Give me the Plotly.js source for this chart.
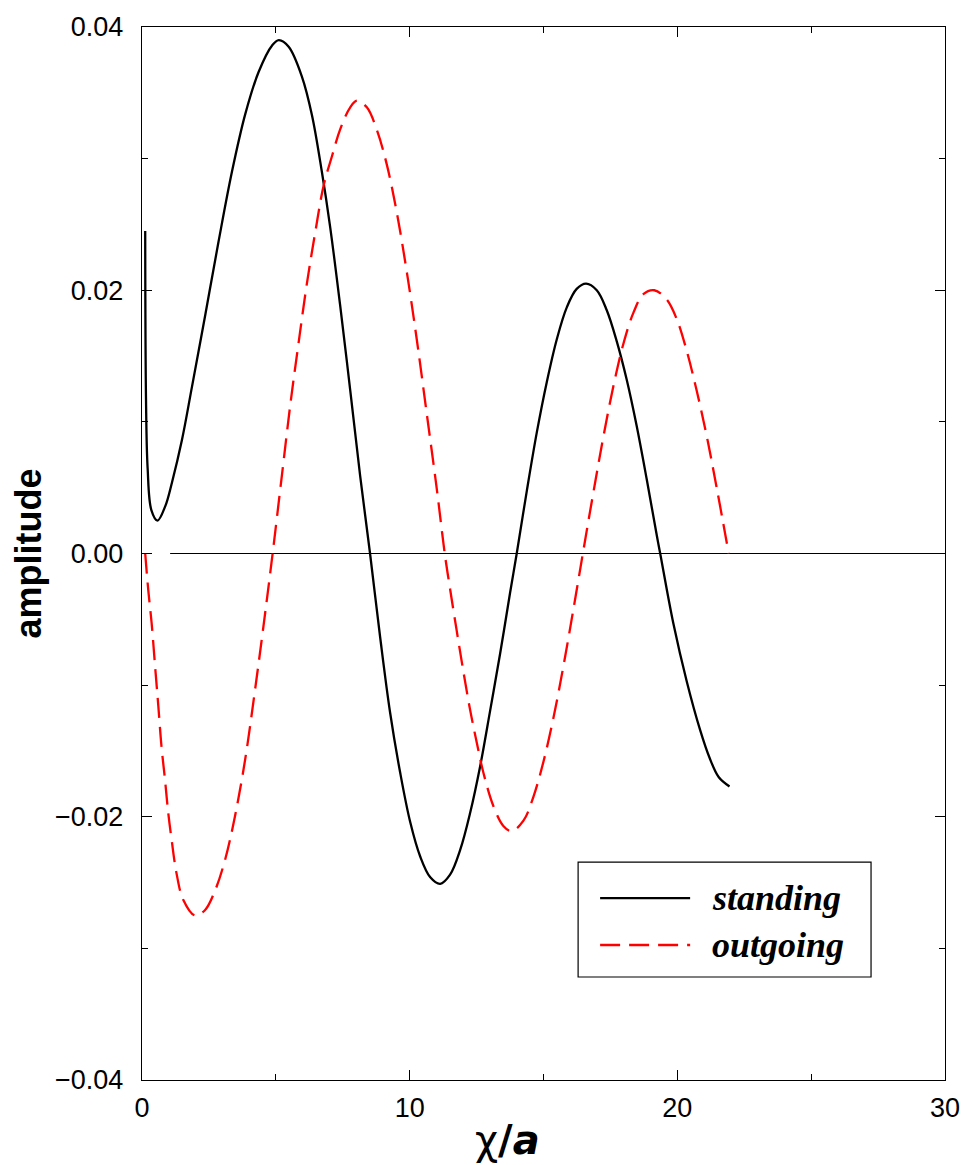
<!DOCTYPE html>
<html>
<head>
<meta charset="utf-8">
<script src="https://cdn.plot.ly/plotly-3.0.1.min.js"></script>
<style>html,body{margin:0;padding:0;background:#fff;}#chart{width:964px;height:1165px;}</style>
</head>
<body>
<div id="chart"></div>
<script>
// standing wave (solid black)
var standingX = [0.12, 0.15, 0.21, 0.35, 0.58, 0.87, 1.12, 1.49, 1.87, 2.37, 2.86, 3.36, 3.86, 4.36, 4.86, 5.11, 5.48, 5.98, 6.35, 6.72, 7.03, 7.40, 7.78, 8.15, 8.52, 8.90, 9.27, 9.65, 10.02, 10.39, 10.77, 11.14, 11.51, 11.89, 12.26, 12.63, 13.01, 13.38, 13.75, 14.00, 14.38, 14.75, 15.12, 15.50, 15.87, 16.24, 16.59, 16.99, 17.36, 17.74, 18.11, 18.48, 18.86, 19.23, 19.36, 19.85, 20.35, 20.85, 21.20, 21.55, 21.95];
var standingY = [0.0245, 0.0117, 0.0065, 0.0033, 0.0025, 0.0036, 0.0054, 0.0086, 0.0127, 0.0182, 0.0237, 0.0290, 0.0334, 0.0366, 0.0386, 0.0390, 0.0385, 0.0362, 0.0333, 0.0290, 0.0248, 0.0189, 0.0124, 0.0059, 0.0000, -0.0064, -0.0121, -0.0167, -0.0204, -0.0230, -0.0246, -0.0251, -0.0244, -0.0225, -0.0197, -0.0162, -0.0119, -0.0076, -0.0030, 0.0000, 0.0048, 0.0092, 0.0130, 0.0163, 0.0187, 0.0201, 0.0205, 0.0200, 0.0185, 0.0161, 0.0132, 0.0097, 0.0056, 0.0014, 0.0000, -0.0053, -0.0097, -0.0134, -0.0155, -0.0170, -0.0177];

// outgoing wave (dashed red)
var outgoingX = [0.12, 0.235, 0.36, 0.49, 0.61, 0.73, 0.86, 0.98, 1.11, 1.29, 1.54, 1.98, 2.35, 2.73, 3.10, 3.47, 3.85, 4.22, 4.59, 4.88, 5.23, 5.54, 5.85, 6.16, 6.48, 6.79, 7.10, 7.40, 7.78, 8.03, 8.40, 8.77, 9.14, 9.52, 9.90, 10.27, 10.64, 11.02, 11.31, 11.51, 11.76, 12.01, 12.26, 12.51, 12.76, 13.13, 13.50, 13.81, 14.25, 14.62, 15.00, 15.37, 15.74, 16.12, 16.47, 16.74, 16.99, 17.24, 17.61, 17.98, 18.36, 18.73, 19.14, 19.60, 19.98, 20.35, 20.72, 21.10, 21.47, 21.92];
var outgoingY = [0.0000, -0.0028, -0.0053, -0.0086, -0.0116, -0.0147, -0.0172, -0.0197, -0.0218, -0.0243, -0.0263, -0.0275, -0.0271, -0.0256, -0.0233, -0.0200, -0.0157, -0.0104, -0.0047, 0.0000, 0.0060, 0.0113, 0.0160, 0.0205, 0.0245, 0.0280, 0.0302, 0.0322, 0.0339, 0.0344, 0.0339, 0.0322, 0.0296, 0.0259, 0.0213, 0.0162, 0.0106, 0.0048, 0.0000, -0.0027, -0.0059, -0.0090, -0.0119, -0.0144, -0.0167, -0.0192, -0.0207, -0.0211, -0.0203, -0.0185, -0.0158, -0.0125, -0.0086, -0.0042, 0.0000, 0.0032, 0.0061, 0.0089, 0.0127, 0.0159, 0.0183, 0.0197, 0.0200, 0.0193, 0.0178, 0.0154, 0.0124, 0.0089, 0.0050, 0.0000];

// horizontal reference line at zero
var zeroLineX = [1.05, 30];
var zeroLineY = [0, 0];

var seriesNames = ['standing', 'outgoing'];
var xTickVals = [0, 10, 20, 30];
var yTickVals = [-0.04, -0.02, 0.00, 0.02, 0.04];
var xTitle = 'χ<b>/<i>a</i></b>';
var yTitle = '<b>amplitude</b>';

var COLORS = {standing: '#000000', outgoing: '#ff0000'};
var DASH = '20px,9px';

var traces = [
  {x: zeroLineX, y: zeroLineY, mode: 'lines', line: {color: '#000', width: 1.2}, showlegend: false, hoverinfo: 'skip'},
  {x: standingX, y: standingY, name: seriesNames[0], mode: 'lines', showlegend: false,
   line: {color: COLORS.standing, width: 2.3, shape: 'spline', smoothing: 1.0}},
  {x: outgoingX, y: outgoingY, name: seriesNames[1], mode: 'lines', showlegend: false,
   line: {color: COLORS.outgoing, width: 2.3, dash: DASH, shape: 'spline', smoothing: 1.0}}
];

var tickFont = {family: 'Liberation Sans, Arial, sans-serif', size: 27, color: '#000'};
var axisCommon = {
  showgrid: false, zeroline: false, showline: true, linecolor: '#000', linewidth: 1.3,
  mirror: 'ticks', ticks: 'inside', ticklen: 10, tickwidth: 1.2, tickcolor: '#000',
  tickfont: tickFont
};

// legend box drawn in paper coordinates
var L = {x0: 0.5431, x1: 0.9079, y0: 0.0978, y1: 0.2070,
         lx0: 0.5705, lx1: 0.6826, tx: 0.7075, row1: 0.1728, row2: 0.1282};

var layout = {
  width: 964, height: 1165,
  margin: {l: 142, r: 19, t: 27, b: 85, pad: 0},
  paper_bgcolor: '#fff', plot_bgcolor: '#fff',
  showlegend: false,
  xaxis: Object.assign({}, axisCommon, {
    range: [0, 30], tickvals: xTickVals, ticktext: xTickVals.map(String),
    ticklabelstandoff: 3,
    minor: {dtick: 5, tick0: 0, ticks: 'inside', ticklen: 6, tickwidth: 1, tickcolor: '#000'}
  }),
  yaxis: Object.assign({}, axisCommon, {
    range: [-0.04, 0.04], tickvals: yTickVals, tickformat: '.2f',
    ticklabelstandoff: 12,
    minor: {dtick: 0.01, tick0: 0, ticks: 'inside', ticklen: 6, tickwidth: 1, tickcolor: '#000'},
    title: {text: yTitle, font: {family: 'Liberation Sans, Arial, sans-serif', size: 36, color: '#000'}, standoff: 2}
  }),
  shapes: [
    {type: 'rect', xref: 'paper', yref: 'paper', x0: L.x0, x1: L.x1, y0: L.y0, y1: L.y1,
     line: {color: '#000', width: 1.2}, fillcolor: '#fff', layer: 'above'},
    {type: 'line', xref: 'paper', yref: 'paper', x0: L.lx0, x1: L.lx1, y0: L.row1, y1: L.row1,
     line: {color: COLORS.standing, width: 2.3}, layer: 'above'},
    {type: 'line', xref: 'paper', yref: 'paper', x0: L.lx0, x1: L.lx1, y0: L.row2, y1: L.row2,
     line: {color: COLORS.outgoing, width: 2.3, dash: DASH}, layer: 'above'}
  ],
  annotations: [
    {xref: 'paper', yref: 'paper', x: L.tx, y: L.row1, xanchor: 'left', yanchor: 'middle', showarrow: false,
     text: '<b><i>' + seriesNames[0] + '</i></b>',
     font: {family: 'Liberation Serif, Times New Roman, serif', size: 36, color: '#000'}},
    {xref: 'paper', yref: 'paper', x: L.tx, y: L.row2, xanchor: 'left', yanchor: 'middle', showarrow: false,
     text: '<b><i>' + seriesNames[1] + '</i></b>',
     font: {family: 'Liberation Serif, Times New Roman, serif', size: 36, color: '#000'}},
    {xref: 'paper', yref: 'paper', x: 0.4548, y: -0.057, xanchor: 'center', yanchor: 'middle', showarrow: false,
     text: xTitle, font: {family: 'DejaVu Sans, Liberation Sans, sans-serif', size: 40, color: '#000'}}
  ]
};

Plotly.newPlot('chart', traces, layout, {displayModeBar: false, staticPlot: true});
</script>
</body>
</html>
